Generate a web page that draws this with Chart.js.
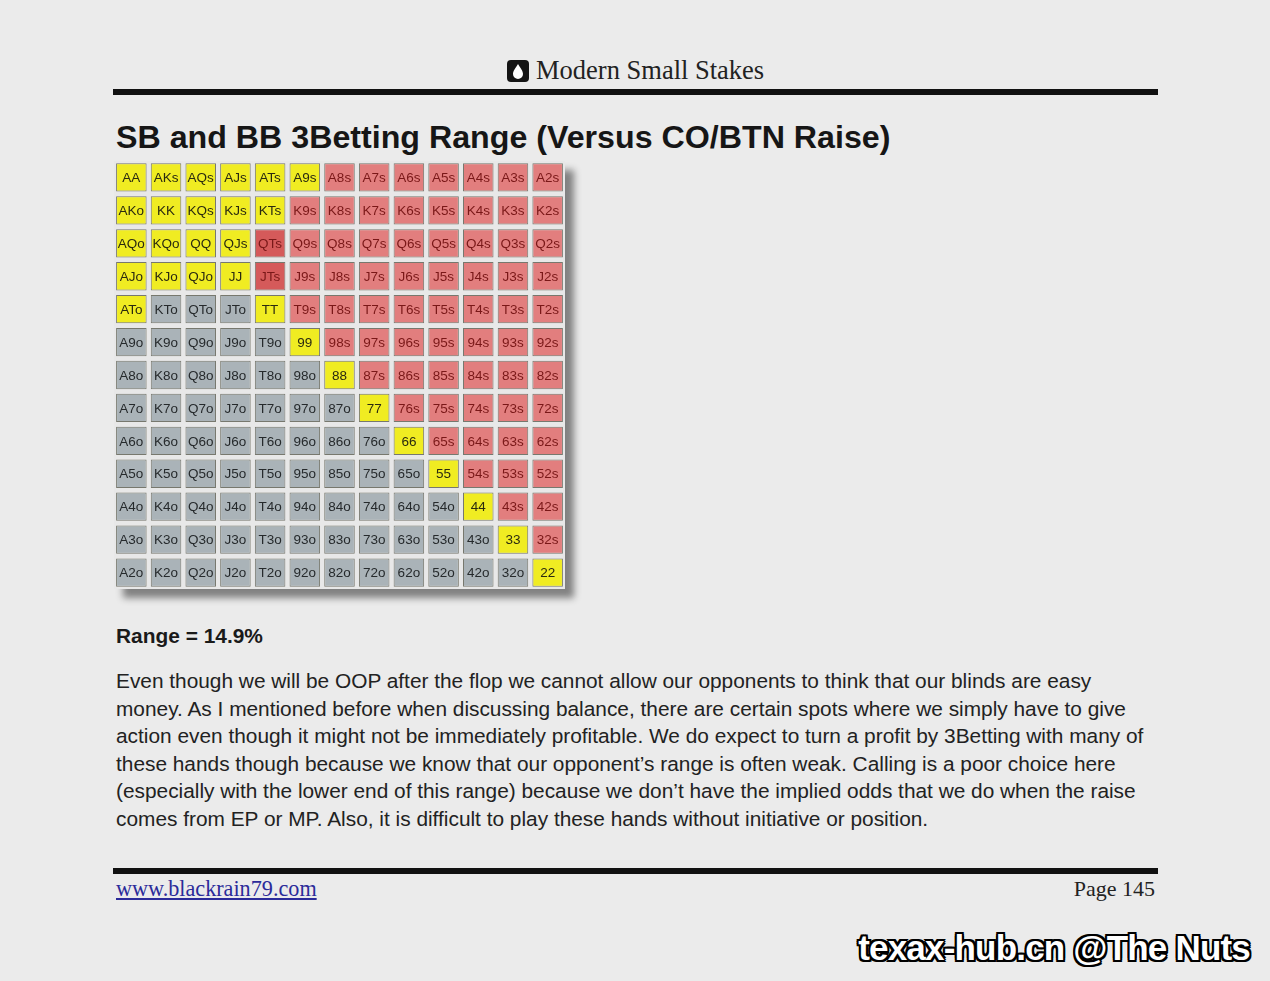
<!DOCTYPE html>
<html>
<head>
<meta charset="utf-8">
<script src="https://cdn.jsdelivr.net/npm/chart.js@4.4.0/dist/chart.umd.min.js"></script>
<style>
  html, body { margin: 0; padding: 0; }
  body { width: 1270px; height: 981px; background: #ebebeb; position: relative; overflow: hidden; font-family: "Liberation Sans", Arial, sans-serif; color: #1a1a1a; }
  .abs { position: absolute; white-space: nowrap; }
  #brand { left: 507px; top: 55px; font-family: "Liberation Serif", serif; font-size: 26.5px; color: #222; }
  #brand svg { vertical-align: -3px; margin-right: 7px; }
  .rule { position: absolute; left: 113px; width: 1045px; background: #111; }
  #title { left: 116px; top: 119px; font-size: 32.2px; font-weight: bold; color: #161616; }
  #gridBox { position: absolute; left: 114px; top: 161px; width: 451px; height: 428px; background: #e8e8e8; box-shadow: 9px 9px 7px rgba(0,0,0,0.45); }
  #range { left: 116px; top: 624px; font-size: 20.9px; font-weight: bold; }
  #para { left: 116px; top: 667px; font-size: 20.85px; line-height: 27.6px; color: #222; }
  #site { left: 116px; top: 876px; font-family: "Liberation Serif", serif; font-size: 22.2px; color: #2b2b9a; text-decoration: underline; }
  #page { right: 115px; top: 876px; font-family: "Liberation Serif", serif; font-size: 22px; color: #222; }
  #mark { right: 20px; top: 928px; font-size: 35px; font-weight: bold; color: #fff; letter-spacing: -0.8px;
    text-shadow: 2px 0 0 #000, -2px 0 0 #000, 0 2px 0 #000, 0 -2px 0 #000, 2px 2px 0 #000, -2px -2px 0 #000, 2px -2px 0 #000, -2px 2px 0 #000; }
</style>
</head>
<body>
<div class="abs" id="brand"><svg width="22" height="22" viewBox="0 0 22 22"><rect x="0" y="0" width="22" height="22" rx="4" fill="#141414"/><path d="M11 4 C8 9 6 11 6 14 a5 5 0 0 0 10 0 C16 11 14 9 11 4 Z" fill="#fff"/></svg>Modern Small Stakes</div>
<div class="rule" style="top:89px;height:6px"></div>
<div class="abs" id="title">SB and BB 3Betting Range (Versus CO/BTN Raise)</div>
<div id="gridBox"><canvas id="rangeGrid" width="451" height="428"></canvas></div>
<div class="abs" id="range">Range = 14.9%</div>
<div class="abs" id="para">Even though we will be OOP after the flop we cannot allow our opponents to think that our blinds are easy<br>money. As I mentioned before when discussing balance, there are certain spots where we simply have to give<br>action even though it might not be immediately profitable. We do expect to turn a profit by 3Betting with many of<br>these hands though because we know that our opponent’s range is often weak. Calling is a poor choice here<br>(especially with the lower end of this range) because we don’t have the implied odds that we do when the raise<br>comes from EP or MP. Also, it is difficult to play these hands without initiative or position.</div>
<div class="rule" style="top:868px;height:6px"></div>
<div class="abs" id="site">www.blackrain79.com</div>
<div class="abs" id="page">Page 145</div>
<div class="abs" id="mark">texax-hub.cn @The Nuts</div>
<script>
// card ranks, high to low (columns and rows of the grid)
const ranks = ['A', 'K', 'Q', 'J', 'T', '9', '8', '7', '6', '5', '4', '3', '2'];
// hands in the 3bet range (yellow)
const threeBetHands = ['AA', 'KK', 'QQ', 'JJ', 'TT', '99', '88', '77', '66', '55', '44', '33', '22',
    'AKs', 'AQs', 'AJs', 'ATs', 'A9s', 'KQs', 'KJs', 'KTs', 'QJs',
    'AKo', 'AQo', 'AJo', 'ATo', 'KQo', 'KJo', 'QJo'];
// suited hands marked darker red
const darkHands = ['QTs', 'JTs'];

const colors = {
    yellow: '#f0ec22',
    red: '#e27e7e',
    darkRed: '#d55a5a',
    gray: '#aab3b8'
};

function handName(r, c) {
    if (r === c) return ranks[r] + ranks[c];
    if (c > r) return ranks[r] + ranks[c] + 's';
    return ranks[c] + ranks[r] + 'o';
}

function cellColor(hand) {
    if (threeBetHands.includes(hand)) return colors.yellow;
    if (darkHands.includes(hand)) return colors.darkRed;
    if (hand.endsWith('s')) return colors.red;
    return colors.gray;
}

function textColor(hand) {
    if (threeBetHands.includes(hand)) return '#2a2a10';
    if (hand.endsWith('s')) return '#7a1818';
    return '#262a2c';
}

// one dataset per row, floating bars from row top to row bottom
const datasets = [];
for (let r = 0; r < ranks.length; r++) {
    let hands = [];
    for (let c = 0; c < ranks.length; c++) hands.push(handName(r, c));
    datasets.push({
        label: 'row ' + ranks[r],
        hands: hands,
        data: hands.map(() => [r + 0.07, r + 0.93]),
        backgroundColor: hands.map(cellColor),
        borderColor: '#77786e',
        borderWidth: 1,
        borderSkipped: false,
        grouped: false,
        barPercentage: 1,
        categoryPercentage: 0.88
    });
}

const cellLabels = {
    id: 'cellLabels',
    afterDatasetsDraw(chart) {
        const ctx = chart.ctx;
        ctx.save();
        ctx.font = '13.5px "Liberation Sans", Arial, sans-serif';
        ctx.textAlign = 'center';
        ctx.textBaseline = 'middle';
        chart.data.datasets.forEach((ds, i) => {
            chart.getDatasetMeta(i).data.forEach((bar, j) => {
                const hand = ds.hands[j];
                ctx.fillStyle = textColor(hand);
                ctx.fillText(hand, bar.x, (bar.y + bar.base) / 2 + 1);
            });
        });
        ctx.restore();
    }
};

new Chart('rangeGrid', {
    type: 'bar',
    data: {
        labels: ranks,
        datasets: datasets
    },
    options: {
        responsive: false,
        animation: false,
        layout: { padding: 0 },
        scales: {
            x: { display: false },
            y: { display: false, min: 0, max: 13, reverse: true }
        },
        plugins: {
            legend: { display: false },
            tooltip: { enabled: false }
        }
    },
    plugins: [cellLabels]
});
</script>
</body>
</html>
